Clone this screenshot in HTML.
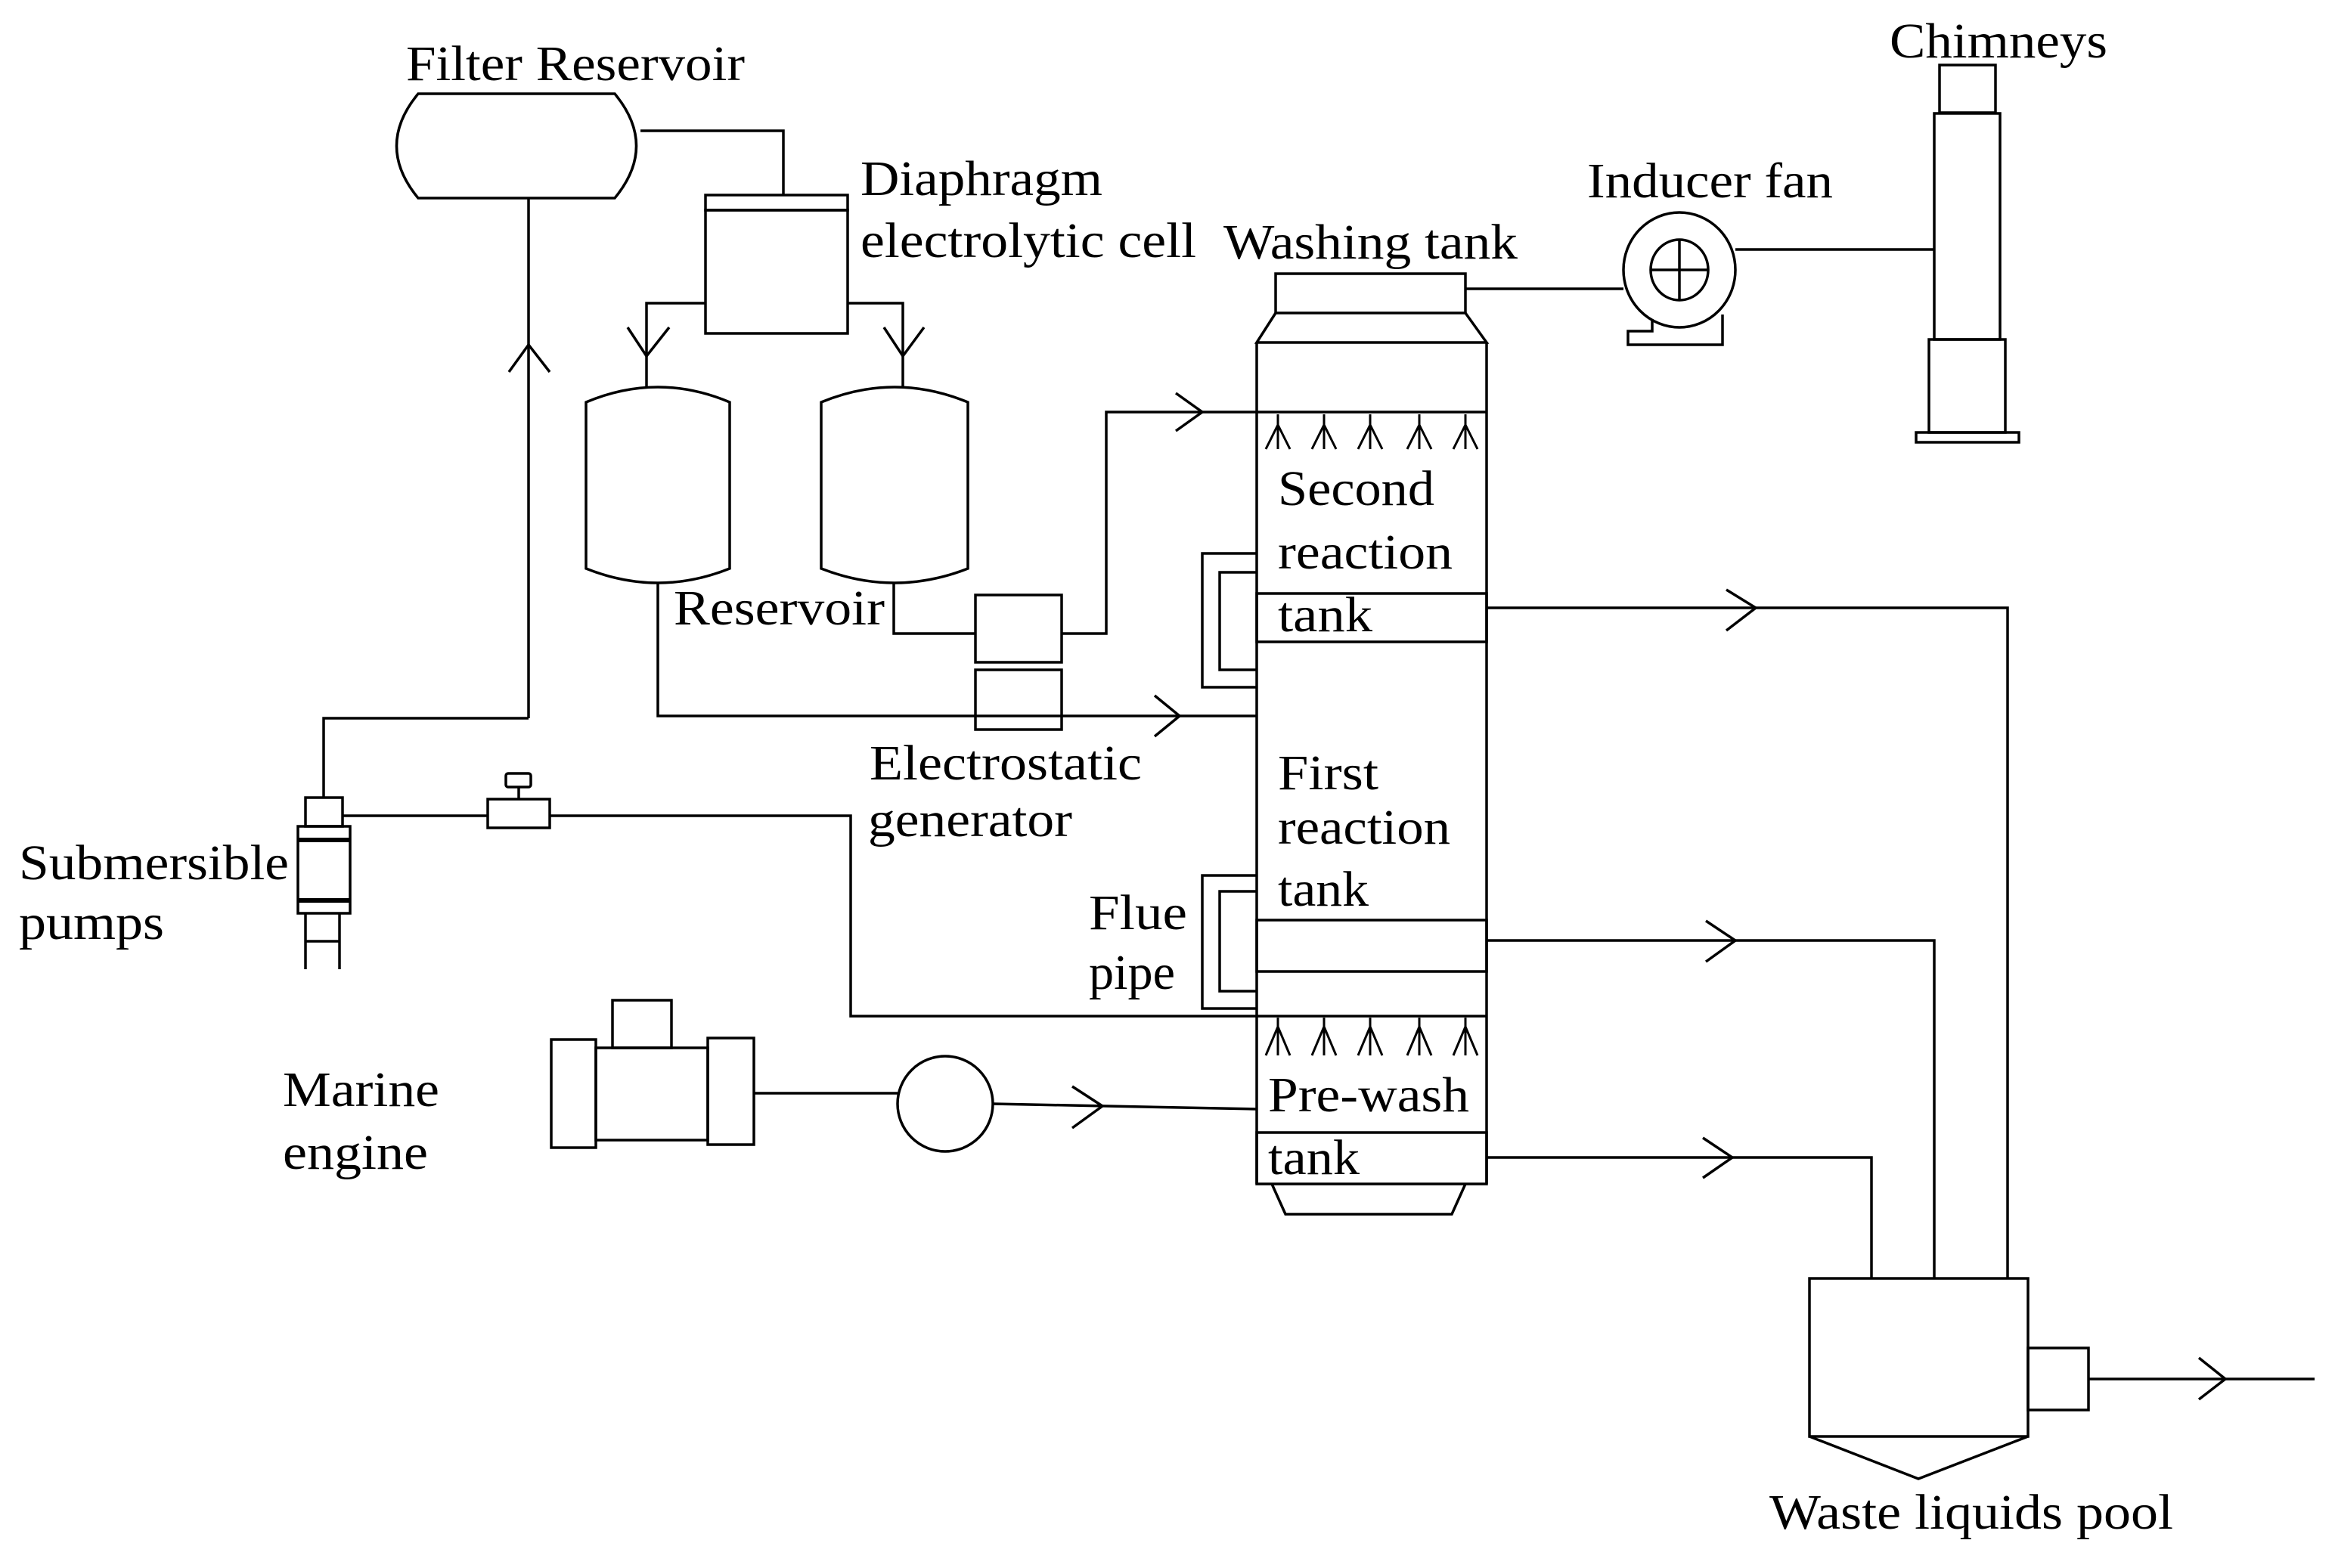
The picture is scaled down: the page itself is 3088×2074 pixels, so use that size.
<!DOCTYPE html>
<html><head><meta charset="utf-8"><style>html,body{margin:0;padding:0;background:#fff}svg{display:block}</style></head><body>
<svg width="3088" height="2074" viewBox="0 0 3088 2074" xmlns="http://www.w3.org/2000/svg">
<g fill="none" stroke="#000" stroke-width="3.5">
<path d="M553,124 L813,124 Q870,193 813,262 L553,262 Q496,193 553,124 Z"/>
<polyline points="847,173 1036,173 1036,258"/>
<line x1="699" y1="262" x2="699" y2="950"/>
<polyline points="699,950 428,950 428,1055"/>
<polyline points="673,492 699,456 727,492"/>
<rect x="933" y="258" width="188" height="20"/>
<rect x="933" y="278" width="188" height="163"/>
<polyline points="933,401 855,401 855,512"/>
<polyline points="1121,401 1194,401 1194,512"/>
<polyline points="830,433 855,471 885,433"/>
<polyline points="1169,433 1194,471 1222,433"/>
<path d="M775,532 Q870,492 965,532 L965,752 Q870,790 775,752 Z"/>
<path d="M1086,532 Q1183,492 1280,532 L1280,752 Q1183,790 1086,752 Z"/>
<polyline points="870,770 870,947 1662,947"/>
<polyline points="1527,920 1560,947 1527,974"/>
<polyline points="1182,770 1182,838 1290,838"/>
<rect x="1290" y="787" width="114" height="89"/>
<rect x="1290" y="886" width="114" height="79"/>
<polyline points="1404,838 1463,838 1463,545 1662,545"/>
<polyline points="1555,520 1590,545 1555,570"/>
<rect x="1687" y="362" width="251" height="52"/>
<path d="M1687,414 L1662,453 L1966,453 L1938,414"/>
<line x1="1662" y1="453" x2="1662" y2="1566"/>
<line x1="1966" y1="453" x2="1966" y2="1566"/>
<line x1="1662" y1="545" x2="1966" y2="545"/>
<rect x="1662" y="785" width="304" height="64"/>
<rect x="1662" y="1217" width="304" height="68"/>
<line x1="1662" y1="1344" x2="1966" y2="1344"/>
<rect x="1662" y="1498" width="304" height="68"/>
<path d="M1682,1566 L1700,1606 L1920,1606 L1938,1566"/>
<g stroke-width="3">
<path d="M1674,594 L1690,562 L1706,594 M1735,594 L1751,562 L1767,594 M1796,594 L1812,562 L1828,594 M1861,594 L1877,562 L1893,594 M1922,594 L1938,562 L1954,594"/>
<path d="M1690,548 V594 M1751,548 V594 M1812,548 V594 M1877,548 V594 M1938,548 V594"/>
<path d="M1674,1396 L1690,1358 L1706,1396 M1735,1396 L1751,1358 L1767,1396 M1796,1396 L1812,1358 L1828,1396 M1861,1396 L1877,1358 L1893,1396 M1922,1396 L1938,1358 L1954,1396"/>
<path d="M1690,1346 V1396 M1751,1346 V1396 M1812,1346 V1396 M1877,1346 V1396 M1938,1346 V1396"/>
</g>
<path d="M1662,732 L1590,732 L1590,909 L1662,909 M1662,757 L1613,757 L1613,886 L1662,886"/>
<path d="M1662,1158 L1590,1158 L1590,1334 L1662,1334 M1662,1179 L1613,1179 L1613,1311 L1662,1311"/>
<line x1="1938" y1="382" x2="2147" y2="382"/>
<ellipse cx="2221" cy="357" rx="74" ry="76"/>
<ellipse cx="2221" cy="357" rx="38" ry="40"/>
<line x1="2183" y1="357" x2="2259" y2="357"/>
<line x1="2221" y1="317" x2="2221" y2="397"/>
<path d="M2185,422 L2185,438 L2153,438 L2153,456 L2278,456 L2278,416"/>
<line x1="2295" y1="330" x2="2558" y2="330"/>
<rect x="2565" y="86" width="74" height="63"/>
<rect x="2558" y="150" width="87" height="299"/>
<rect x="2551" y="449" width="101" height="123"/>
<rect x="2534" y="572" width="136" height="13"/>
<polyline points="1966,804 2655,804 2655,1691"/>
<polyline points="2283,780 2322,804 2283,834"/>
<polyline points="1966,1244 2558,1244 2558,1691"/>
<polyline points="2256,1218 2295,1244 2256,1272"/>
<polyline points="1966,1531 2475,1531 2475,1691"/>
<polyline points="2252,1505 2291,1531 2252,1558"/>
<rect x="2393" y="1691" width="289" height="209"/>
<polyline points="2393,1900 2537,1956 2682,1900"/>
<rect x="2682" y="1783" width="80" height="82"/>
<line x1="2762" y1="1824" x2="3061" y2="1824"/>
<polyline points="2908,1796 2943,1824 2908,1851"/>
<rect x="404" y="1055" width="49" height="38"/>
<rect x="394" y="1093" width="69" height="115"/>
<line x1="394" y1="1111" x2="463" y2="1111" stroke-width="6"/>
<line x1="394" y1="1191" x2="463" y2="1191" stroke-width="6"/>
<polyline points="404,1208 404,1282"/>
<polyline points="449,1208 449,1282"/>
<line x1="404" y1="1245" x2="449" y2="1245"/>
<line x1="453" y1="1079" x2="645" y2="1079"/>
<rect x="645" y="1057" width="82" height="38"/>
<line x1="686" y1="1041" x2="686" y2="1057"/>
<rect x="669" y="1023" width="33" height="18" rx="3"/>
<polyline points="727,1079 1125,1079 1125,1344 1662,1344"/>
<rect x="729" y="1375" width="59" height="143"/>
<rect x="788" y="1386" width="148" height="122"/>
<rect x="936" y="1373" width="61" height="141"/>
<rect x="810" y="1323" width="78" height="63"/>
<line x1="997" y1="1446" x2="1187" y2="1446"/>
<circle cx="1250" cy="1460" r="63"/>
<line x1="1313" y1="1460" x2="1662" y2="1467"/>
<polyline points="1418,1437 1458,1463 1418,1492"/>
</g>
<g font-family="'Liberation Serif', serif" font-size="66" fill="#000">
<text x="537" y="106" textLength="448" lengthAdjust="spacingAndGlyphs">Filter Reservoir</text>
<text x="1138" y="258" textLength="320" lengthAdjust="spacingAndGlyphs">Diaphragm</text>
<text x="1138" y="340" textLength="444" lengthAdjust="spacingAndGlyphs">electrolytic cell</text>
<text x="1618" y="342" textLength="389" lengthAdjust="spacingAndGlyphs">Washing tank</text>
<text x="2099" y="261" textLength="325" lengthAdjust="spacingAndGlyphs">Inducer fan</text>
<text x="2499" y="76" textLength="288" lengthAdjust="spacingAndGlyphs">Chimneys</text>
<text x="1690" y="668" textLength="207" lengthAdjust="spacingAndGlyphs">Second</text>
<text x="1690" y="752" textLength="231" lengthAdjust="spacingAndGlyphs">reaction</text>
<text x="1690" y="835" textLength="125" lengthAdjust="spacingAndGlyphs">tank</text>
<text x="891" y="826" textLength="279" lengthAdjust="spacingAndGlyphs">Reservoir</text>
<text x="1150" y="1031" textLength="360" lengthAdjust="spacingAndGlyphs">Electrostatic</text>
<text x="1148" y="1106" textLength="270" lengthAdjust="spacingAndGlyphs">generator</text>
<text x="1690" y="1044" textLength="133" lengthAdjust="spacingAndGlyphs">First</text>
<text x="1690" y="1116" textLength="228" lengthAdjust="spacingAndGlyphs">reaction</text>
<text x="1690" y="1198" textLength="120" lengthAdjust="spacingAndGlyphs">tank</text>
<text x="25" y="1163" textLength="357" lengthAdjust="spacingAndGlyphs">Submersible</text>
<text x="25" y="1242" textLength="192" lengthAdjust="spacingAndGlyphs">pumps</text>
<text x="1440" y="1229" textLength="130" lengthAdjust="spacingAndGlyphs">Flue</text>
<text x="1440" y="1308" textLength="114" lengthAdjust="spacingAndGlyphs">pipe</text>
<text x="374" y="1463" textLength="207" lengthAdjust="spacingAndGlyphs">Marine</text>
<text x="374" y="1546" textLength="192" lengthAdjust="spacingAndGlyphs">engine</text>
<text x="1677" y="1470" textLength="266" lengthAdjust="spacingAndGlyphs">Pre-wash</text>
<text x="1677" y="1553" textLength="121" lengthAdjust="spacingAndGlyphs">tank</text>
<text x="2340" y="2022" textLength="534" lengthAdjust="spacingAndGlyphs">Waste liquids pool</text>
</g>
</svg>
</body></html>
